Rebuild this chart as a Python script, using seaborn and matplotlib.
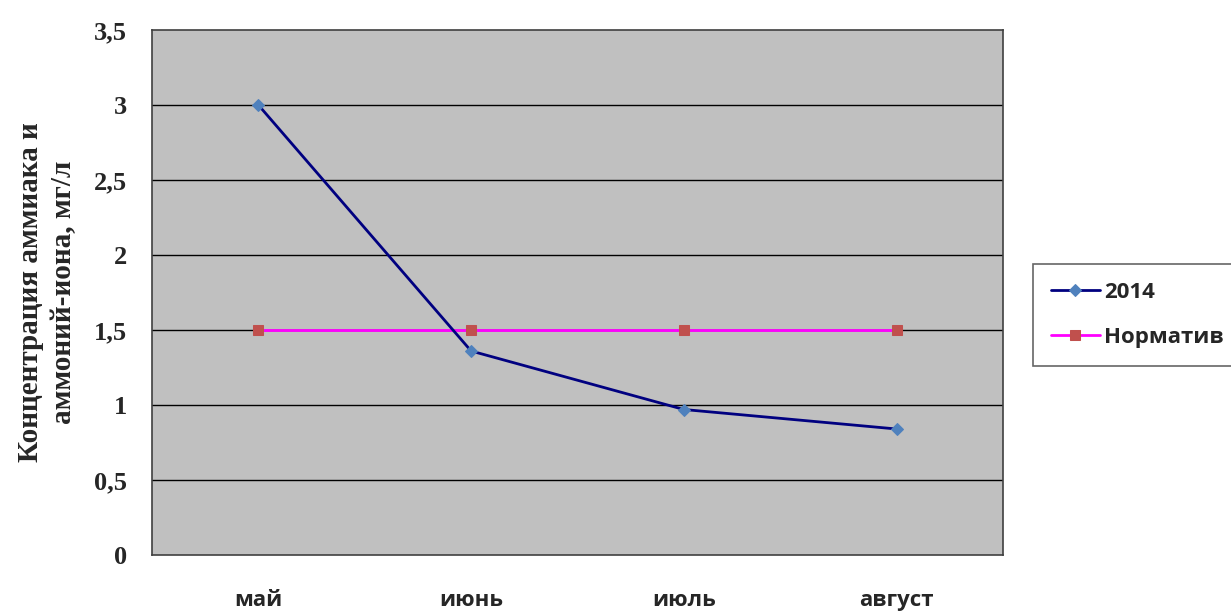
import matplotlib
matplotlib.use("Agg")
import matplotlib.pyplot as plt
import seaborn as sns
import pandas as pd

months = ["май", "июнь", "июль", "август"]
values_2014 = [3.0, 1.36, 0.97, 0.84]
values_norm = [1.5, 1.5, 1.5, 1.5]
yticks = [0, 0.5, 1, 1.5, 2, 2.5, 3, 3.5]
ytick_labels = ["0", "0,5", "1", "1,5", "2", "2,5", "3", "3,5"]

sns.set_style("white")
plt.rcParams['font.family'] = ['DejaVu Sans']

df = pd.DataFrame({
    "month": months * 2,
    "value": values_2014 + values_norm,
    "series": ["2014"] * 4 + ["Норматив"] * 4,
})

fig = plt.figure(figsize=(12.31, 6.11), dpi=100)
ax = fig.add_axes([152/1231, 1 - 555/611, (1003-152)/1231, (555-30)/611])
ax.set_facecolor("#c0c0c0")

d1 = df[df.series == "2014"]
d2 = df[df.series == "Норматив"]
sns.lineplot(data=d1, x="month", y="value", ax=ax, color="#000080", lw=2,
             marker="D", markersize=6, markerfacecolor="#4f81bd",
             markeredgecolor="#4f81bd", label="2014", zorder=4)
sns.lineplot(data=d2, x="month", y="value", ax=ax, color="#ff00ff", lw=2,
             marker="s", markersize=7, markerfacecolor="#c0504d",
             markeredgecolor="#c0504d", label="Норматив", zorder=3)

ax.set_xlim(-0.5, 3.5)
ax.set_ylim(0, 3.5)
ax.set_yticks(yticks)
ax.set_yticklabels(ytick_labels, fontfamily="Liberation Serif",
                   fontweight="bold", fontsize=19)
ax.set_xticks(range(len(months)))
ax.set_xticklabels(months, fontfamily="Open Sans", fontweight="bold", fontsize=16)
ax.tick_params(axis="x", length=0, pad=25)
ax.tick_params(axis="y", length=0, pad=18)
for y in yticks[1:-1]:
    ax.axhline(y, color="black", lw=1, zorder=1)
for s in ax.spines.values():
    s.set_color("#404040")
    s.set_linewidth(1.2)

ax.set_xlabel("")
ax.set_ylabel("Концентрация аммиака и\nаммоний-иона, мг/л",
              fontfamily="Liberation Serif", fontweight="bold", fontsize=21,
              labelpad=12, linespacing=1.3)

leg = ax.legend(loc="center left", bbox_to_anchor=(1033/1231, 1 - 315/611),
                bbox_transform=fig.transFigure, frameon=True, fancybox=False,
                prop={"family": "Open Sans", "weight": "bold", "size": 16},
                handlelength=2.2, labelspacing=1.1, borderpad=0.8,
                handletextpad=0.2, borderaxespad=0)
leg.get_frame().set_edgecolor("#404040")
leg.get_frame().set_linewidth(1.2)

fig.savefig("out.png", dpi=100, facecolor="white")
